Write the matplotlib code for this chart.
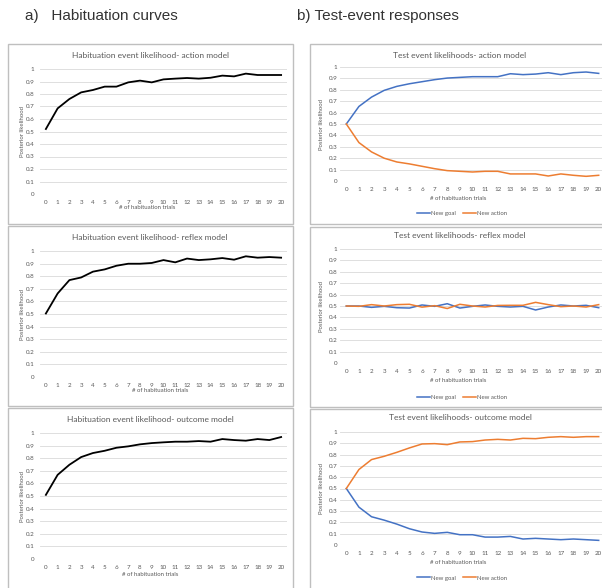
import matplotlib
matplotlib.use("Agg")
import matplotlib.pyplot as plt
from matplotlib.patches import Rectangle
from matplotlib.lines import Line2D
import numpy as np

trials = list(range(21))

# habituation curves (left column)
hab_action = [0.52, 0.685, 0.76, 0.813, 0.832, 0.859, 0.859, 0.893, 0.907, 0.893, 0.917,
              0.923, 0.928, 0.923, 0.93, 0.947, 0.941, 0.963, 0.952, 0.952, 0.952]
hab_reflex = [0.504, 0.663, 0.769, 0.79, 0.836, 0.854, 0.883, 0.899, 0.899, 0.905, 0.928,
              0.91, 0.94, 0.928, 0.934, 0.944, 0.931, 0.958, 0.947, 0.952, 0.947]
hab_outcome = [0.509, 0.668, 0.748, 0.809, 0.841, 0.859, 0.883, 0.894, 0.91, 0.92, 0.926,
               0.931, 0.931, 0.936, 0.931, 0.952, 0.944, 0.939, 0.952, 0.944, 0.968]

# test event responses (right column)
act_goal = [0.5, 0.654, 0.736, 0.795, 0.83, 0.853, 0.871, 0.889, 0.903, 0.909, 0.915,
            0.915, 0.915, 0.941, 0.933, 0.938, 0.95, 0.933, 0.95, 0.956, 0.944]
act_action = [0.5, 0.337, 0.255, 0.2, 0.167, 0.15, 0.129, 0.108, 0.091, 0.085, 0.079,
              0.085, 0.085, 0.062, 0.062, 0.062, 0.044, 0.062, 0.05, 0.041, 0.05]
ref_goal = [0.5, 0.5, 0.488, 0.497, 0.485, 0.482, 0.509, 0.497, 0.52, 0.482, 0.497,
            0.509, 0.497, 0.491, 0.497, 0.465, 0.491, 0.509, 0.5, 0.506, 0.485]
ref_action = [0.5, 0.497, 0.512, 0.5, 0.512, 0.515, 0.49, 0.503, 0.478, 0.515, 0.5,
              0.491, 0.505, 0.506, 0.506, 0.532, 0.512, 0.494, 0.5, 0.491, 0.512]
out_goal = [0.5, 0.335, 0.25, 0.22, 0.185, 0.144, 0.115, 0.103, 0.112, 0.091, 0.091,
            0.07, 0.07, 0.076, 0.053, 0.059, 0.053, 0.047, 0.053, 0.047, 0.041]
out_action = [0.5, 0.668, 0.756, 0.785, 0.82, 0.859, 0.894, 0.897, 0.888, 0.912, 0.915,
              0.929, 0.935, 0.929, 0.944, 0.941, 0.953, 0.959, 0.953, 0.959, 0.959]

W, H = 602, 588
GRAY = "#595959"
BLUE = "#4472c4"
ORANGE = "#ed7d31"
FONT = "Lato"

fig = plt.figure(figsize=(W / 100, H / 100), dpi=100)

def fx(x):
    return x / W

def fy(y):
    return 1 - y / H

def add_ax(x0, x1, ytop, ybot, ypad):
    ax = fig.add_axes([fx(x0), fy(ybot), (x1 - x0) / W, (ybot - ytop) / H])
    ax.set_xlim(-0.5, 20.5)
    ax.set_ylim(0, 1)
    ax.set_yticks(np.arange(0, 1.01, 0.1))
    ax.set_yticklabels(["%g" % round(v, 1) for v in np.arange(0, 1.01, 0.1)])
    ax.set_xticks(trials)
    ax.tick_params(length=0, labelsize=4.5, labelcolor=GRAY)
    ax.tick_params(axis="y", pad=ypad)
    ax.tick_params(axis="x", pad=4)
    for lab in ax.get_xticklabels() + ax.get_yticklabels():
        lab.set_fontfamily(FONT)
    for s in ax.spines.values():
        s.set_visible(False)
    ax.grid(axis="y", color="#d9d9d9", lw=0.6)
    ax.set_axisbelow(True)
    ax.set_facecolor("none")
    return ax

# panel boxes
boxes = [(8, 44, 293, 224), (8, 226, 293, 406), (8, 408, 293, 600),
         (310, 44, 620, 224), (310, 227, 620, 407), (310, 409, 620, 600)]
for x0, y0, x1, y1 in boxes:
    fig.patches.append(Rectangle((fx(x0), fy(y1)), (x1 - x0) / W, (y1 - y0) / H,
                                 transform=fig.transFigure, fill=False,
                                 edgecolor="#bfbfbf", lw=1.0))

# left column
left_rows = [(69, 194, 55, 208, 147, hab_action, "Habituation event likelihood- action model"),
             (251, 377, 238, 391, 160, hab_reflex, "Habituation event likelihood- reflex model"),
             (433, 559, 420, 574, 150, hab_outcome, "Habituation event likelihood- outcome model")]
for ytop, ybot, ty, xly, xlx, vals, title in left_rows:
    ax = add_ax(40, 287, ytop, ybot, 4)
    ax.plot(trials, vals, color="black", lw=1.3)
    fig.text(fx(150), fy(ty), title, ha="center", va="center", fontsize=6,
             color=GRAY, family=FONT)
    fig.text(fx(xlx), fy(xly), "# of habituation trials", ha="center", va="center",
             fontsize=4.3, color=GRAY, family=FONT)
    fig.text(fx(22), fy((ytop + ybot) / 2), "Posterior likelihood", ha="center",
             va="center", rotation=90, fontsize=4.3, color=GRAY, family=FONT)

# right column
right_rows = [(67, 181, 55, 198, 213, act_goal, act_action, "Test event likelihoods- action model"),
              (249, 363, 236, 380, 397, ref_goal, ref_action, "Test event likelihoods- reflex model"),
              (432, 545, 418, 562, 578, out_goal, out_action, "Test event likelihoods- outcome model")]
for ytop, ybot, ty, xly, legy, goal, action, title in right_rows:
    ax = add_ax(340, 605, ytop, ybot, 2)
    ax.plot(trials, goal, color=BLUE, lw=1.1)
    ax.plot(trials, action, color=ORANGE, lw=1.1)
    fig.text(fx(460), fy(ty), title, ha="center", va="center", fontsize=6,
             color=GRAY, family=FONT)
    fig.text(fx(458), fy(xly), "# of habituation trials", ha="center", va="center",
             fontsize=4.3, color=GRAY, family=FONT)
    fig.text(fx(322), fy((ytop + ybot) / 2), "Posterior likelihood", ha="center",
             va="center", rotation=90, fontsize=4.3, color=GRAY, family=FONT)
    handles = [Line2D([], [], color=BLUE, lw=1.1), Line2D([], [], color=ORANGE, lw=1.1)]
    leg = fig.legend(handles, ["New goal", "New action"], loc="center",
                     bbox_to_anchor=(fx(462), fy(legy)), ncol=2, frameon=False,
                     prop={"family": FONT, "size": 4.3}, handlelength=2.2,
                     handletextpad=0.2, columnspacing=1.2)
    for t in leg.get_texts():
        t.set_color(GRAY)

# column headings
fig.text(fx(25), fy(16), "a)   Habituation curves", ha="left", va="center",
         fontsize=11, color="#333333", family="Liberation Sans")
fig.text(fx(297), fy(16), "b) Test-event responses", ha="left", va="center",
         fontsize=11, color="#333333", family="Liberation Sans")

fig.savefig("out.png", dpi=100)
